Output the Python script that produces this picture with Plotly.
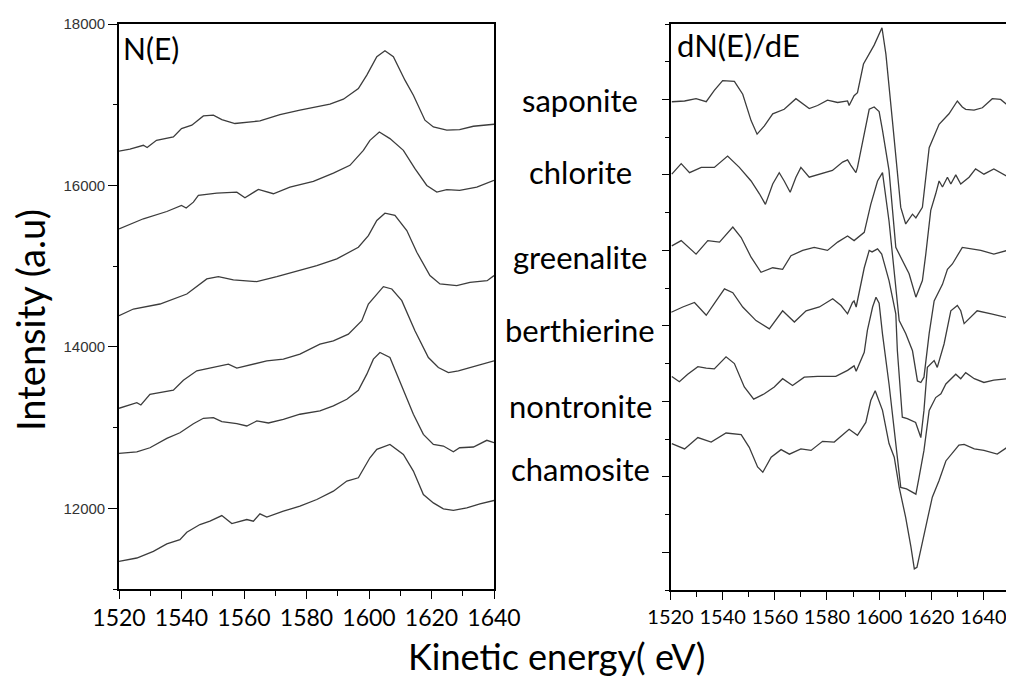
import plotly.graph_objects as go

# ---------------- N(E) panel (left) ----------------
sap_N_E = [1520, 1523.5, 1527.8, 1529, 1532, 1537.4, 1540, 1543.3, 1547, 1550.2, 1552.9, 1557.1, 1565.1, 1571.5, 1577.9, 1584.3, 1587.5, 1591.8, 1596.6, 1599.3, 1602.5, 1605.1, 1607.8, 1611.5, 1614.2, 1617.9, 1620.6, 1624.9, 1629, 1633.4, 1640]
sap_N = [16426, 16450, 16497, 16469, 16559, 16600, 16704, 16746, 16861, 16870, 16816, 16767, 16800, 16878, 16932, 16982, 17006, 17068, 17201, 17367, 17594, 17669, 17594, 17304, 17118, 16808, 16724, 16684, 16692, 16733, 16758]

chl_N_E = [1520, 1523.5, 1527.8, 1535.3, 1540, 1541.5, 1543.8, 1545.4, 1551.3, 1557.7, 1560.3, 1564.6, 1569.4, 1574.7, 1582.2, 1588.6, 1593.9, 1598.2, 1600.3, 1603.3, 1606.7, 1611, 1614.7, 1618.5, 1621.7, 1624.9, 1629, 1634.5, 1640]
chl_N = [15462, 15516, 15587, 15677, 15752, 15720, 15793, 15876, 15905, 15917, 15847, 15951, 15897, 15979, 16050, 16153, 16249, 16435, 16559, 16662, 16580, 16435, 16208, 16000, 15917, 15947, 15938, 15979, 16062]

grn_N_E = [1520, 1524.6, 1533.1, 1541.7, 1548.1, 1551.8, 1556.6, 1564.1, 1570.5, 1575.8, 1583.3, 1589.7, 1596.6, 1599.8, 1602.5, 1605.1, 1608.3, 1612.1, 1615.3, 1619.5, 1622.7, 1628.1, 1632.3, 1637.8, 1640]
grn_N = [14386, 14469, 14531, 14655, 14841, 14870, 14829, 14808, 14870, 14924, 15007, 15090, 15234, 15379, 15566, 15656, 15628, 15441, 15172, 14883, 14779, 14758, 14800, 14820, 14883]

ber_N_E = [1520, 1525.7, 1527, 1529.9, 1537.4, 1540.6, 1544.9, 1550.2, 1555, 1557.7, 1563, 1567.3, 1572.6, 1577.9, 1584.3, 1588.6, 1593.4, 1597.7, 1599.8, 1604.6, 1607.3, 1610.5, 1614.7, 1619, 1622.2, 1625.4, 1628.6, 1633.9, 1640]
ber_N = [13239, 13309, 13280, 13413, 13463, 13587, 13703, 13744, 13786, 13736, 13786, 13827, 13848, 13910, 14034, 14075, 14158, 14324, 14531, 14746, 14717, 14572, 14200, 13868, 13744, 13682, 13703, 13765, 13827]

non_N_E = [1520, 1525.7, 1529.9, 1535.3, 1539.5, 1543.8, 1547, 1550.2, 1552.9, 1557.7, 1560.9, 1564.1, 1567.8, 1572.6, 1577.9, 1584.3, 1588.6, 1592.9, 1596.6, 1599.3, 1601.4, 1603.5, 1606.7, 1609.9, 1614.2, 1617.4, 1620.6, 1623.8, 1627, 1629, 1633.4, 1637.7, 1640]
non_N = [12680, 12700, 12750, 12867, 12936, 13048, 13115, 13123, 13073, 13048, 13020, 13082, 13057, 13103, 13165, 13206, 13268, 13351, 13463, 13662, 13848, 13930, 13868, 13578, 13165, 12916, 12792, 12771, 12700, 12750, 12759, 12842, 12812]

cha_N_E = [1520, 1525.7, 1531, 1535.3, 1539.5, 1541.7, 1545.9, 1549.1, 1552.9, 1556.1, 1560.9, 1563, 1565.1, 1567.3, 1572.6, 1577.9, 1583.3, 1588.6, 1592.9, 1596.6, 1600.3, 1602.5, 1606.7, 1611, 1614.2, 1617.4, 1620.6, 1623.8, 1627, 1631.3, 1635.5, 1640]
cha_N = [11343, 11384, 11467, 11558, 11612, 11703, 11799, 11840, 11910, 11811, 11861, 11840, 11931, 11890, 11964, 12026, 12109, 12212, 12337, 12378, 12626, 12730, 12792, 12668, 12461, 12171, 12067, 11993, 11973, 12005, 12055, 12097]

# ---------------- dN(E)/dE panel (right) ----------------
sap_d_E = [1520.5, 1525.4, 1529.8, 1533.7, 1536.8, 1540, 1544.5, 1547.7, 1550.9, 1553.2, 1556, 1559.2, 1563.6, 1568.1, 1573.2, 1576.4, 1580.2, 1584.1, 1587.9, 1588.5, 1590.4, 1591.7, 1594, 1596.2, 1598.1, 1601.1, 1602.6, 1605.1, 1607, 1608.3, 1610.2, 1612.8, 1614.1, 1616.6, 1619.2, 1623, 1626.8, 1630, 1631.9, 1633.2, 1636.4, 1639.6, 1643.4, 1646.6, 1649.1]
sap_d = [5.97, 5.98, 6.01, 5.97, 6.12, 6.25, 6.24, 6.07, 5.72, 5.54, 5.65, 5.81, 5.87, 6.01, 5.88, 5.92, 5.99, 5.96, 5.98, 5.92, 6.05, 6.09, 6.47, 6.60, 6.72, 6.95, 6.60, 5.72, 5.04, 4.57, 4.35, 4.48, 4.43, 4.57, 5.36, 5.67, 5.81, 5.98, 5.90, 5.87, 5.86, 5.89, 6.01, 6.00, 5.93]

chl_d_E = [1520.5, 1524.1, 1527.3, 1531.8, 1536.8, 1541.9, 1546.4, 1550.9, 1554.1, 1556.4, 1559.2, 1561.7, 1563.6, 1565.9, 1568.1, 1570, 1573.2, 1577.7, 1582.1, 1586, 1587.9, 1589.1, 1591.1, 1591.7, 1594, 1595.3, 1596.2, 1598.1, 1600, 1601.3, 1603.8, 1606.4, 1608.9, 1611.5, 1614.1, 1616.6, 1617.9, 1619.8, 1621.7, 1623, 1624.3, 1626.2, 1627.5, 1629.4, 1631.3, 1634.5, 1637, 1640.2, 1644, 1649.1]
chl_d = [5.01, 5.15, 5.03, 5.10, 5.10, 5.25, 5.10, 4.92, 4.75, 4.61, 4.88, 5.03, 4.92, 4.77, 4.97, 5.10, 4.97, 5.02, 5.06, 5.17, 5.20, 5.13, 5.03, 5.10, 5.50, 5.72, 5.87, 5.90, 5.84, 5.59, 5.06, 4.04, 3.86, 3.69, 3.38, 3.60, 3.95, 4.53, 4.75, 4.92, 4.84, 4.97, 4.88, 5.00, 4.88, 4.97, 5.08, 5.01, 5.08, 4.98]

grn_d_E = [1520.5, 1524.1, 1529.8, 1534.3, 1538.8, 1543.9, 1547.1, 1550.9, 1554.7, 1559.2, 1563, 1566.2, 1570.7, 1575.1, 1580.2, 1584.1, 1587.9, 1590.4, 1594.3, 1596.8, 1599.4, 1601.3, 1603.8, 1605.1, 1606.4, 1607.7, 1610.2, 1612.8, 1614.7, 1616, 1617.2, 1619.2, 1621.1, 1624.3, 1626.2, 1628.1, 1631.9, 1639, 1644, 1649.1]
grn_d = [4.06, 4.13, 3.95, 4.13, 4.11, 4.31, 4.17, 3.91, 3.71, 3.77, 3.75, 3.93, 4.00, 4.04, 4.00, 4.11, 4.19, 4.13, 4.24, 4.61, 4.92, 5.03, 4.39, 3.95, 3.51, 3.07, 2.90, 2.67, 2.27, 2.25, 2.32, 2.90, 3.33, 3.55, 3.75, 3.82, 4.04, 4.00, 3.95, 4.00]

ber_d_E = [1520.3, 1524.7, 1529.2, 1533.7, 1537.5, 1540.7, 1543.9, 1547.7, 1552.8, 1557.9, 1563, 1567.5, 1572, 1577.1, 1582.2, 1585.4, 1587.9, 1589.8, 1590.4, 1591.2, 1594.3, 1596.2, 1597.3, 1599.4, 1601, 1603.8, 1606.4, 1607, 1608.9, 1610.8, 1614, 1616, 1617.2, 1618.5, 1621.1, 1622.3, 1624.9, 1627.5, 1630, 1631.3, 1632.6, 1637.6, 1643, 1649.1]
ber_d = [3.18, 3.25, 3.31, 3.14, 3.33, 3.49, 3.44, 3.25, 3.07, 2.96, 3.20, 3.05, 3.20, 3.25, 3.36, 3.27, 3.16, 3.31, 3.33, 3.25, 3.77, 4.00, 3.98, 4.02, 3.95, 3.60, 3.16, 2.67, 1.79, 1.77, 1.72, 1.52, 1.88, 2.45, 2.54, 2.45, 2.76, 3.20, 3.27, 3.20, 3.03, 3.20, 3.16, 3.11]

non_d_E = [1520.5, 1523.4, 1526.6, 1530.5, 1533.7, 1536.8, 1541.3, 1544.5, 1548.3, 1551.9, 1556, 1559.8, 1563, 1566.8, 1571.3, 1576.4, 1583.4, 1587.9, 1590.4, 1591.2, 1594.3, 1595.5, 1597.5, 1598.8, 1600, 1601.3, 1603.8, 1606.4, 1608.3, 1610.5, 1612.5, 1614.1, 1615.3, 1617.2, 1619.2, 1621.7, 1623.7, 1625.6, 1629.4, 1631.3, 1633.2, 1636.5, 1640.2, 1644, 1649.1]
non_d = [2.33, 2.26, 2.36, 2.46, 2.44, 2.43, 2.59, 2.50, 2.19, 2.03, 2.10, 2.19, 2.30, 2.21, 2.32, 2.33, 2.33, 2.41, 2.47, 2.40, 2.65, 2.94, 3.25, 3.38, 3.30, 2.89, 2.23, 1.48, 0.86, 0.84, 0.80, 0.77, 0.99, 1.35, 1.88, 2.05, 2.10, 2.23, 2.36, 2.30, 2.38, 2.30, 2.25, 2.28, 2.30]

cha_d_E = [1520.5, 1525.4, 1530.5, 1535.6, 1541.3, 1547.1, 1550.2, 1553.4, 1555.4, 1558.6, 1562.4, 1565.6, 1570, 1573.9, 1578.3, 1582.8, 1588.5, 1591.7, 1594.9, 1596.8, 1598.5, 1601.3, 1603.8, 1605.8, 1607.7, 1610.2, 1612.2, 1613.5, 1614.5, 1616.6, 1618.6, 1620.4, 1623, 1625.6, 1628.8, 1630.6, 1632.6, 1636.5, 1640.2, 1645.3, 1649.1]
cha_d = [1.44, 1.37, 1.52, 1.46, 1.58, 1.56, 1.39, 1.13, 1.06, 1.26, 1.36, 1.30, 1.37, 1.35, 1.47, 1.46, 1.63, 1.55, 1.72, 2.01, 2.14, 1.88, 1.44, 1.26, 0.86, 0.46, 0.07, -0.22, -0.20, 0.15, 0.45, 0.73, 0.95, 1.21, 1.35, 1.42, 1.43, 1.37, 1.35, 1.30, 1.39]

mineral_names = ["saponite", "chlorite", "greenalite", "berthierine", "nontronite", "chamosite"]
label_levels = [6, 5, 4, 3, 2, 1]  # right-panel y tick each label sits on
x_ticks = [1520, 1540, 1560, 1580, 1600, 1620, 1640]
y_ticks_left = [12000, 14000, 16000, 18000]
y_tick_text_left = ["12000", "14000", "16000", "18000"]

left_series = [(sap_N_E, sap_N), (chl_N_E, chl_N), (grn_N_E, grn_N),
               (ber_N_E, ber_N), (non_N_E, non_N), (cha_N_E, cha_N)]
right_series = [(sap_d_E, sap_d), (chl_d_E, chl_d), (grn_d_E, grn_d),
                (ber_d_E, ber_d), (non_d_E, non_d), (cha_d_E, cha_d)]

# the page body has an 8px margin, so the figure is made 8px smaller and
# positions below are given in window pixels and converted
OFF = 8
W, H = 1014 - OFF, 682 - OFF
LINE = dict(color="#3c3c3c", width=1.3)

fig = go.Figure()
for ex, ey in left_series:
    fig.add_trace(go.Scatter(x=ex, y=ey, mode="lines", line=LINE,
                             xaxis="x", yaxis="y", showlegend=False))
for ex, ey in right_series:
    fig.add_trace(go.Scatter(x=ex, y=ey, mode="lines", line=LINE,
                             xaxis="x2", yaxis="y2", showlegend=False))

def px(x):
    return (x - OFF) / W

def py(y):
    return 1 - (y - OFF) / H

axis_common = dict(showline=True, linecolor="black", linewidth=1.6, mirror=True,
                   showgrid=False, zeroline=False, ticks="outside", tickcolor="black",
                   tickwidth=1.4, automargin=False)

fig.update_layout(
    width=W, height=H,
    margin=dict(l=0, r=0, t=0, b=0, pad=0, autoexpand=False),
    paper_bgcolor="white", plot_bgcolor="white",
    xaxis=dict(domain=[px(119), px(494)], anchor="y", range=[1520, 1640],
               tickvals=x_ticks, ticklen=8,
               minor=dict(ticks="outside", ticklen=5, dtick=10, tick0=1520, tickcolor="black"),
               tickfont=dict(family="Lato", size=23, color="black"), **axis_common),
    yaxis=dict(domain=[py(589), py(24)], anchor="x", range=[11000, 18000],
               tickvals=y_ticks_left, ticktext=y_tick_text_left, ticklen=9,
               minor=dict(ticks="outside", ticklen=4, dtick=1000, tick0=11000, tickcolor="black"),
               tickfont=dict(family="Liberation Sans", size=15, color="#333"),
               **axis_common),
    xaxis2=dict(domain=[px(670.5), px(1009.5)], anchor="y2", range=[1520, 1650],
                tickvals=x_ticks, ticklen=8,
                minor=dict(ticks="outside", ticklen=5, dtick=10, tick0=1520, tickcolor="black"),
                tickfont=dict(family="Lato", size=20, color="black"), **axis_common),
    yaxis2=dict(domain=[py(590), py(24)], anchor="x2", range=[-0.5, 7],
                tickvals=label_levels + [0], ticklen=7, showticklabels=False,
                minor=dict(ticks="outside", ticklen=4, dtick=0.5, tick0=-0.5, tickcolor="black"),
                **axis_common),
)

annots = [
    dict(text="N(E)", x=px(121), y=py(48), xanchor="left", yanchor="middle",
         font=dict(family="Lato", size=30, color="black")),
    dict(text="dN(E)/dE", x=px(675), y=py(45), xanchor="left", yanchor="middle",
         font=dict(family="Lato", size=31, color="black")),
    dict(text="Intensity (a.u)", x=px(30), y=py(320), textangle=-90,
         xanchor="center", yanchor="middle",
         font=dict(family="Lato", size=38, color="black")),
    dict(text="Kinetic energy( eV)", x=px(556), y=py(656), xanchor="center", yanchor="middle",
         font=dict(family="Lato", size=36, color="black")),
]
label_y_px = [100, 172, 257, 330, 406, 469]
for name, ly in zip(mineral_names, label_y_px):
    annots.append(dict(text=name, x=px(580), y=py(ly), xanchor="center", yanchor="middle",
                       font=dict(family="Lato", size=31, color="black")))
for a in annots:
    a.update(xref="paper", yref="paper", showarrow=False)
fig.update_layout(annotations=annots)

fig.write_html("out.html")
